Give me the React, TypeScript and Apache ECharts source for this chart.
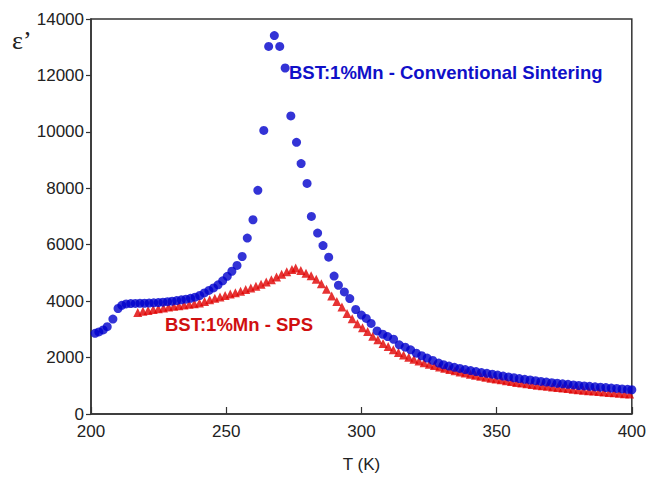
import React, { useEffect, useRef } from "react";
import * as echarts from "echarts";

const convT = [
  199.6, 201.5, 202.9, 204.5, 206.0, 208.1, 210.0, 211.4, 213.0, 214.7, 216.4, 218.1, 219.8, 221.5, 223.2, 224.9,
  226.6, 228.3, 230.0, 231.7, 233.4, 235.1, 236.8, 238.5, 240.2, 241.9, 243.6, 245.3, 247.0, 248.7, 250.4, 252.1,
  254.0, 255.9, 257.8, 259.9, 261.7, 263.9, 265.7, 267.8, 269.8, 271.8, 273.9, 276.0, 277.7, 279.9, 281.5, 283.8,
  285.8, 287.9, 289.9, 291.5, 293.7, 295.7, 297.9, 300.0, 301.8, 303.6, 305.8, 307.9, 309.7, 311.9, 314.0, 316.2,
  318.2, 320.3, 322.3, 324.3, 326.4, 328.6, 330.4, 332.4, 334.4, 336.4, 338.4, 340.4, 342.4, 344.4, 346.4, 348.4,
  350.4, 352.4, 354.4, 356.4, 358.4, 360.4, 362.4, 364.4, 366.4, 368.4, 370.4, 372.4, 374.4, 376.4, 378.4, 380.4,
  382.4, 384.4, 386.4, 388.4, 390.4, 392.4, 394.4, 396.4, 398.4, 400.0,
];
const convEps = [
  2826, 2860, 2909, 2979, 3095, 3366, 3740, 3850, 3900, 3915, 3920, 3922, 3925, 3930, 3940, 3950,
  3965, 3980, 4000, 4020, 4045, 4070, 4100, 4140, 4200, 4290, 4380, 4470, 4580, 4720, 4880, 5060,
  5266, 5583, 6237, 6885, 7926, 10051, 13028, 13414, 13028, 12264, 10565, 9629, 8877, 8173, 7001, 6413,
  5969, 5558, 4890, 4563, 4327, 4092, 3704, 3507, 3388, 3212, 2945, 2826, 2744, 2650, 2452, 2368,
  2275, 2157, 2065, 1981, 1900, 1806, 1745, 1700, 1655, 1615, 1575, 1540, 1505, 1470, 1440, 1410,
  1380, 1345, 1315, 1285, 1255, 1230, 1205, 1180, 1155, 1130, 1110, 1090, 1070, 1050, 1030, 1010,
  995, 980, 965, 950, 935, 920, 905, 890, 875, 860,
];

const spsT = [
  217.3, 219.2, 221.1, 223.0, 224.9, 226.8, 228.7, 230.6, 232.5, 234.4, 236.3, 238.2, 240.1, 242.0, 243.9, 245.8,
  247.7, 249.6, 251.5, 253.4, 255.3, 257.2, 259.1, 261.0, 262.9, 264.8, 266.7, 268.6, 270.5, 272.4, 274.3, 275.7,
  277.6, 279.5, 281.4, 283.3, 285.2, 287.1, 289.0, 290.9, 292.8, 294.7, 296.6, 298.5, 300.4, 302.3, 304.2, 306.1,
  308.0, 309.9, 311.8, 313.7, 315.6, 317.5, 319.4, 321.3, 323.2, 325.1, 327.0, 328.9, 330.8, 332.7, 334.6, 336.5,
  338.4, 340.3, 342.2, 344.1, 346.0, 347.9, 349.8, 351.7, 353.6, 355.5, 357.4, 359.3, 361.2, 363.1, 365.0, 366.9,
  368.8, 370.7, 372.6, 374.5, 376.4, 378.3, 380.2, 382.1, 384.0, 385.9, 387.8, 389.7, 391.6, 393.5, 395.4, 397.3,
  399.2,
];
const spsEps = [
  3600, 3640, 3670, 3700, 3730, 3760, 3790, 3815, 3840, 3865, 3890, 3910, 3935, 3990, 4050, 4100,
  4150, 4200, 4250, 4300, 4350, 4410, 4470, 4530, 4600, 4680, 4760, 4860, 4950, 5040, 5120, 5171,
  5090, 4990, 4900, 4780, 4620, 4420, 4180, 3990, 3790, 3560, 3380, 3200, 3060, 2920, 2760, 2630,
  2500, 2390, 2280, 2180, 2090, 2010, 1940, 1880, 1820, 1765, 1715, 1665, 1620, 1575, 1530, 1490,
  1450, 1410, 1375, 1340, 1305, 1270, 1240, 1210, 1180, 1150, 1120, 1095, 1070, 1045, 1020, 1000,
  980, 960, 940, 920, 900, 880, 862, 845, 828, 812, 796, 780, 765, 750, 735, 720,
  705,
];

const xTicks = [200, 250, 300, 350, 400];
const yTicks = [0, 2000, 4000, 6000, 8000, 10000, 12000, 14000];

const convLabel = "BST:1%Mn - Conventional Sintering";
const spsLabel = "BST:1%Mn - SPS";
const xName = "T (K)";
const yName = "ε’";

export default function App() {
  const ref = useRef<HTMLDivElement>(null);
  useEffect(() => {
    if (!ref.current) return;
    const chart = echarts.init(ref.current, null, { renderer: "svg" });
    const font = "Liberation Sans, Arial, sans-serif";
    chart.setOption({
      animation: false,
      backgroundColor: "#ffffff",
      grid: {
        left: 91,
        right: 10,
        top: 19,
        bottom: 60,
        show: true,
        borderColor: "#333",
        borderWidth: 1.5,
        backgroundColor: "transparent",
      },
      xAxis: {
        type: "value",
        min: xTicks[0],
        max: xTicks[xTicks.length - 1],
        interval: 50,
        name: xName,
        nameLocation: "middle",
        nameGap: 42,
        nameTextStyle: { fontFamily: font, fontSize: 17, color: "#222" },
        axisLine: { show: true, lineStyle: { color: "#333", width: 1.5 } },
        axisTick: { show: true, inside: true, length: 7, lineStyle: { color: "#333", width: 1.2 } },
        axisLabel: { fontFamily: font, fontSize: 17, color: "#222", margin: 9 },
        splitLine: { show: false },
      },
      yAxis: {
        type: "value",
        min: yTicks[0],
        max: yTicks[yTicks.length - 1],
        interval: 2000,
        axisLine: { show: true, lineStyle: { color: "#333", width: 1.5 } },
        axisTick: { show: true, inside: false, length: 5, lineStyle: { color: "#333", width: 1.2 } },
        axisLabel: {
          fontFamily: font,
          fontSize: 17,
          color: "#222",
          margin: 7,
          formatter: (v: number) => String(v),
        },
        splitLine: { show: false },
      },
      graphic: [
        {
          type: "text",
          left: 12,
          top: 27,
          style: {
            text: yName,
            font: "26px 'Liberation Serif', 'Times New Roman', serif",
            fill: "#222",
          },
        },
        {
          type: "text",
          left: 289,
          top: 63,
          style: {
            text: convLabel,
            font: "bold 18.5px 'Liberation Sans', Arial, sans-serif",
            fill: "#1010c8",
          },
        },
        {
          type: "text",
          left: 165,
          top: 315,
          style: {
            text: spsLabel,
            font: "bold 18.5px 'Liberation Sans', Arial, sans-serif",
            fill: "#d01010",
          },
        },
      ],
      series: [
        {
          type: "scatter",
          name: spsLabel,
          symbol: "triangle",
          symbolSize: 9,
          itemStyle: { color: "#e00000" },
          data: spsT.map((t, i) => [t, spsEps[i]]),
          z: 2,
        },
        {
          type: "scatter",
          name: convLabel,
          symbol: "circle",
          symbolSize: 9,
          itemStyle: { color: "#0000cc" },
          data: convT.map((t, i) => [t, convEps[i]]),
          z: 3,
        },
      ],
    });
    return () => chart.dispose();
  }, []);
  return (
    <div
      ref={ref}
      style={{ position: "fixed", left: 0, top: 0, width: 649, height: 478 }}
    />
  );
}
